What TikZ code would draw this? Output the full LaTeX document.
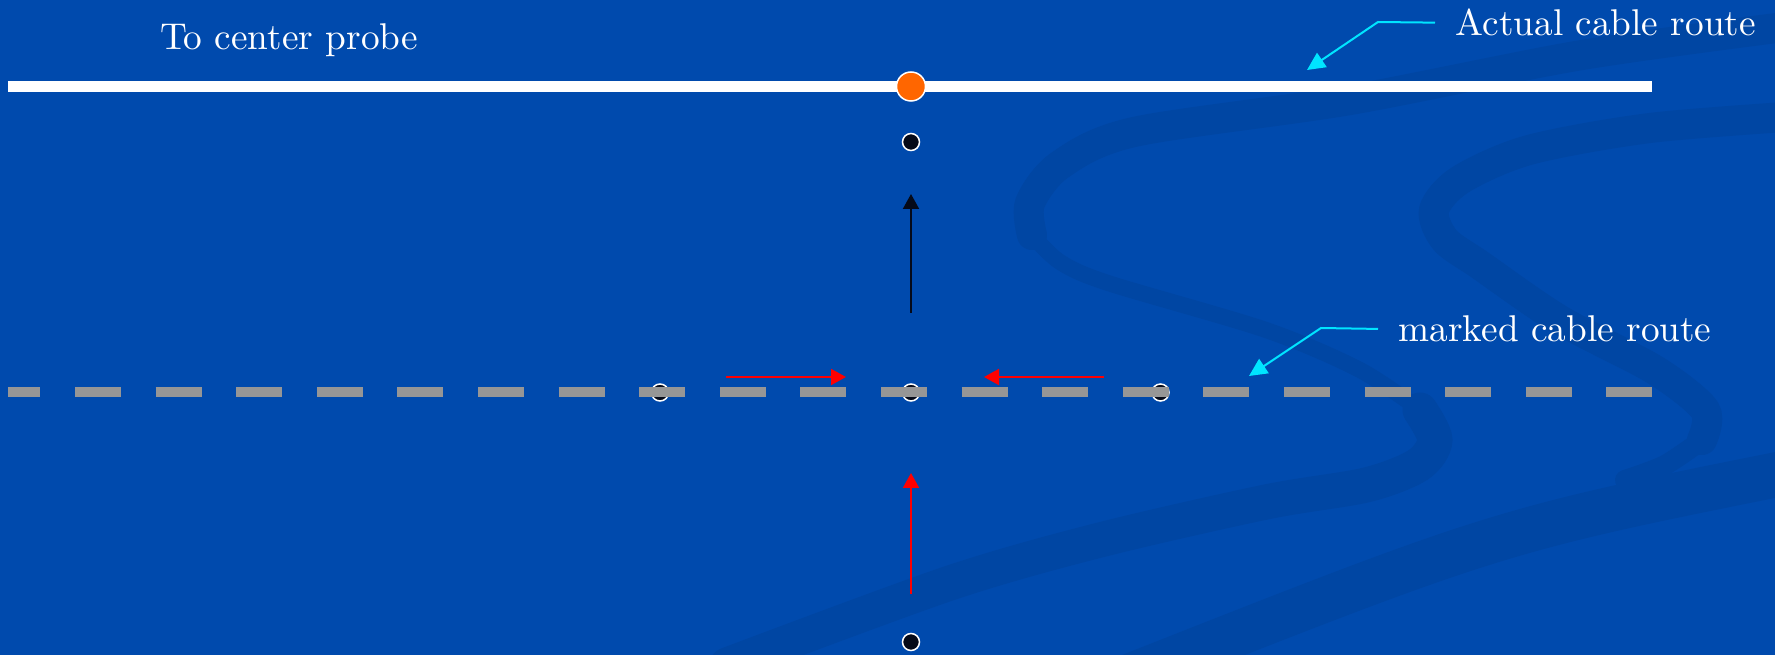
\documentclass[tikz,border=0pt]{standalone}
\usepackage{tikz}
\usetikzlibrary{arrows.meta}

\definecolor{slidebg}{RGB}{0,74,173}
\definecolor{swoosh}{RGB}{0,70,163}
\definecolor{probeorange}{RGB}{255,102,0}
\definecolor{leadcyan}{RGB}{0,229,255}
\definecolor{markgray}{RGB}{150,150,150}
\definecolor{pindark}{RGB}{5,10,25}

\begin{document}
\begin{tikzpicture}[
    x=0.1mm, y=-0.1mm,
    every node/.style={font=\fontsize{10.6}{13}\selectfont, text=white},
    pin/.style={circle, draw=white, line width=0.15mm, fill=pindark, minimum size=1.7mm, inner sep=0pt},
    probe/.style={circle, draw=white, line width=0.15mm, fill=probeorange, minimum size=2.9mm, inner sep=0pt},
    arrow/.style={-{Triangle[length=1.5mm,width=1.6mm]}, line width=0.2mm},
    callout/.style={-{Triangle[length=1.8mm,width=1.7mm]}, line width=0.2mm, draw=leadcyan, shorten <=2mm},
    band/.style={draw=swoosh, line width=3mm, line cap=round}
]
\fill[slidebg] (0,0) rectangle (1775,655);
\useasboundingbox (0,0) rectangle (1775,655);

\begin{scope}
\clip (0,0) rectangle (1775,655);
\draw[band] plot[smooth] coordinates {(1800,25) (1582,55) (1350,100) (1134,132) (1060,165) (1030,203) (1032,235)};
\draw[band, line width=1.6mm] plot[smooth] coordinates {(1032,235) (1060,262) (1108,283) (1266,330) (1360,370) (1420,410)};
\draw[band, line width=3.5mm] plot[smooth] coordinates {(1420,410) (1435,440) (1418,465) (1366,485) (1266,502) (1100,540) (950,583) (727,665)};
\draw[band] plot[smooth] coordinates {(1800,116) (1650,128) (1529,150) (1460,180) (1434,210) (1445,240) (1480,265) (1560,320) (1655,370) (1705,410) (1702,440)};
\draw[band, line width=2mm] plot[smooth] coordinates {(1702,440) (1665,465) (1625,480)};
\draw[band, line width=4.5mm] (1800,470) .. controls (1500,530) .. (1120,680);
\end{scope}

% actual route
\coordinate (actL) at (8,86.5);
\coordinate (actR) at (1652,86.5);
\draw[white, line width=1.1mm] (actL) -- (actR);

% marked route
\node[pin] (mkL) at (660,392.5) {};
\node[pin] (mkC) at (911,392.5) {};
\node[pin] (mkR) at (1160.5,392.5) {};
\coordinate (mrkL) at (8,392.5);
\coordinate (mrkR) at (1652.5,392.5);
\draw[markgray, line width=1mm, dash pattern=on 4.6mm off 3.46mm, dash phase=1.35mm] (mrkL) -- (mrkR);

\node[probe] (center) at (911,86.5) {};
\node[pin] (upper) at (911,142) {};
\node[pin] (lower) at (911,642) {};

\node[anchor=base] (note) at (289,49.5) {To center probe};
\node[anchor=base west, inner sep=0pt] (actual) at (1455,36) {Actual cable route};
\node[anchor=base west, inner sep=0pt] (marked) at (1398,342) {marked cable route};

\coordinate (ac1) at (1378,22);
\coordinate (ac2) at (1307,70);
\coordinate (mc1) at (1321,328);
\coordinate (mc2) at (1249,376);
\draw[callout] (actual.west) -- (ac1) -- (ac2);
\draw[callout] (marked.west) -- (mc1) -- (mc2);

\coordinate (bk1) at (911,313);
\coordinate (bk2) at (911,194);
\coordinate (rv1) at (911,594);
\coordinate (rv2) at (911,473);
\coordinate (rl1) at (726,377);
\coordinate (rl2) at (846,377);
\coordinate (rr1) at (1104,377);
\coordinate (rr2) at (984,377);
\draw[arrow, pindark] (bk1) -- (bk2);
\draw[arrow, red] (rv1) -- (rv2);
\draw[arrow, red] (rl1) -- (rl2);
\draw[arrow, red] (rr1) -- (rr2);
\end{tikzpicture}
\end{document}
